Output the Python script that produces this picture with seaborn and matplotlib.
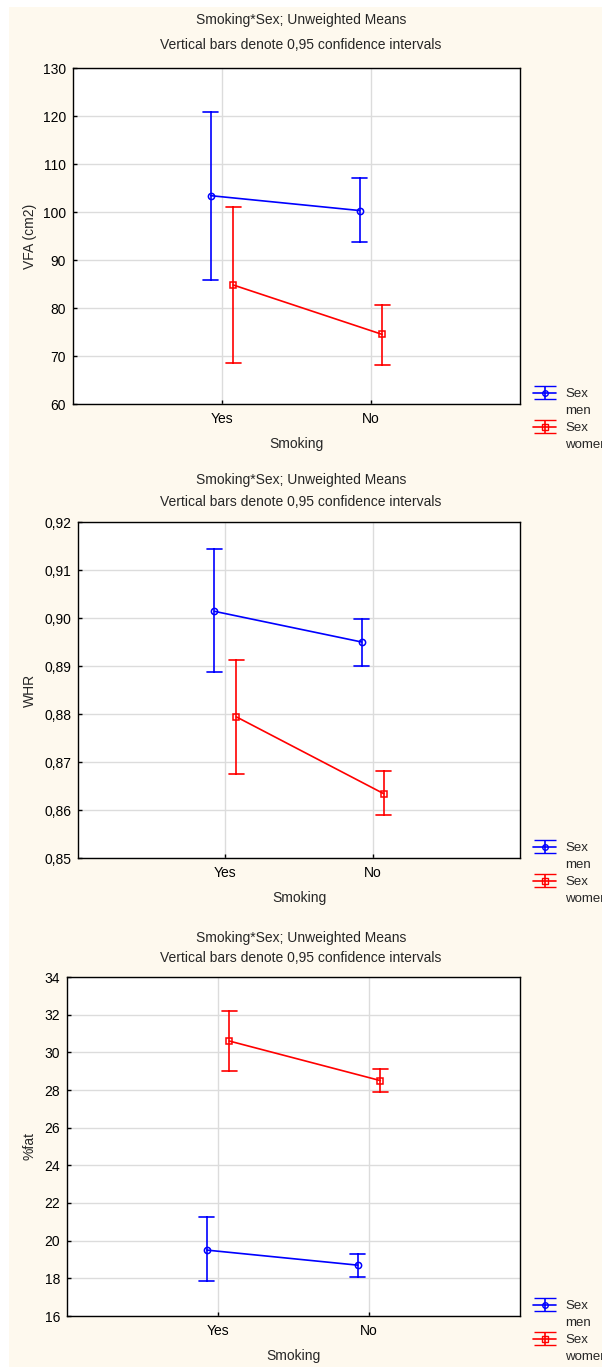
import numpy as np
import pandas as pd
import matplotlib
matplotlib.use("Agg")
import matplotlib.pyplot as plt
import seaborn as sns
from matplotlib.patches import Rectangle
from matplotlib.lines import Line2D

# ---------------- data ----------------
smoking = ["Yes", "No"]
sexes = ["men", "women"]

vfa_mean_men = [103.4, 100.3]
vfa_lo_men = [85.8, 93.8]
vfa_hi_men = [120.9, 107.0]
vfa_mean_women = [84.8, 74.5]
vfa_lo_women = [68.5, 68.2]
vfa_hi_women = [101.0, 80.7]

whr_mean_men = [0.9014, 0.8950]
whr_lo_men = [0.8888, 0.8901]
whr_hi_men = [0.9143, 0.8997]
whr_mean_women = [0.8794, 0.8634]
whr_lo_women = [0.8675, 0.8590]
whr_hi_women = [0.8913, 0.8681]

fat_mean_men = [19.5, 18.7]
fat_lo_men = [17.85, 18.05]
fat_hi_men = [21.25, 19.3]
fat_mean_women = [30.6, 28.5]
fat_lo_women = [29.0, 27.9]
fat_hi_women = [32.2, 29.1]

vfa_ticks = [60, 70, 80, 90, 100, 110, 120, 130]
whr_ticks = [0.85, 0.86, 0.87, 0.88, 0.89, 0.90, 0.91, 0.92]
fat_ticks = [16, 18, 20, 22, 24, 26, 28, 30, 32, 34]

title1 = "Smoking*Sex; Unweighted Means"
title2 = "Vertical bars denote 0,95 confidence intervals"

panels = [
    dict(ylabel="VFA (cm2)", ticks=vfa_ticks, fmt="{:.0f}",
         men=(vfa_mean_men, vfa_lo_men, vfa_hi_men),
         women=(vfa_mean_women, vfa_lo_women, vfa_hi_women)),
    dict(ylabel="WHR", ticks=whr_ticks, fmt="{:.2f}",
         men=(whr_mean_men, whr_lo_men, whr_hi_men),
         women=(whr_mean_women, whr_lo_women, whr_hi_women)),
    dict(ylabel="%fat", ticks=fat_ticks, fmt="{:.0f}",
         men=(fat_mean_men, fat_lo_men, fat_hi_men),
         women=(fat_mean_women, fat_lo_women, fat_hi_women)),
]

colors = {"men": "#0000ff", "women": "#ff0000"}
markers = {"men": "o", "women": "s"}

sns.set_style("white")
plt.rcParams["font.family"] = ["Liberation Sans", "DejaVu Sans"]
plt.rcParams["font.size"] = 10

W, H = 602, 1367
fig = plt.figure(figsize=(W / 100, H / 100), dpi=100)
fig.patch.set_facecolor("white")
fig.patches.append(Rectangle((9 / W, 0), 1 - 9 / W, 1 - 7 / H,
                             transform=fig.transFigure, facecolor="#fef9ee",
                             edgecolor="none", zorder=-10))

# axes boxes in pixels: (left, top, right, bottom)
boxes = [(73, 68, 520, 404), (78, 522, 520, 858), (67, 977, 520, 1316)]
title_y = [(20, 45), (480, 502), (938, 958)]
ylabel_x = 30
legend_x = 533

for p, box, ty in zip(panels, boxes, title_y):
    l, t, r, b = box
    wpx, hpx = r - l, b - t
    ax = fig.add_axes([l / W, 1 - b / H, wpx / W, hpx / H])
    ax.set_facecolor("white")

    # long table: lower bound, mean, upper bound per group
    rows = []
    for sex in sexes:
        m, lo, hi = p[sex]
        for i, s in enumerate(smoking):
            for v in (lo[i], m[i], hi[i]):
                rows.append(dict(Smoking=s, Sex=sex, value=v))
    df = pd.DataFrame(rows)

    sns.pointplot(data=df, x="Smoking", y="value", hue="Sex",
                  order=smoking, hue_order=sexes,
                  palette=colors, markers=[markers[s] for s in sexes],
                  estimator="median",
                  errorbar=lambda v: (np.min(v), np.max(v)),
                  dodge=0.15, capsize=0.1,
                  markersize=4.5, markerfacecolor="none", markeredgewidth=1.1,
                  linewidth=1.2, err_kws={"linewidth": 1.2},
                  legend=False, ax=ax)

    ax.set_xlim(-1, 2)
    ax.set_ylim(p["ticks"][0], p["ticks"][-1])
    ax.set_yticks(p["ticks"])
    ax.set_yticklabels([p["fmt"].format(v).replace(".", ",") for v in p["ticks"]])
    ax.set_xticks([0, 1])
    ax.set_xticklabels(smoking)
    ax.grid(True, color="#dcdcdc", linewidth=1.0, zorder=0)
    ax.set_axisbelow(True)
    for sp in ax.spines.values():
        sp.set_visible(True)
        sp.set_color("black")
        sp.set_linewidth(1.0)
    ax.tick_params(axis="both", direction="in", length=3, width=1,
                   color="black", labelsize=10, labelcolor="black",
                   left=True, bottom=True)
    ax.tick_params(axis="y", pad=5)
    ax.tick_params(axis="x", pad=6)
    ax.set_xlabel("Smoking", fontsize=10, labelpad=8)
    ax.set_ylabel(p["ylabel"], fontsize=10)
    ax.yaxis.set_label_coords((ylabel_x - l) / wpx, 0.5)
    ax.yaxis.label.set_verticalalignment("center")

    fig.text(0.5, 1 - ty[0] / H, title1, ha="center", va="center", fontsize=10)
    fig.text(0.5, 1 - ty[1] / H, title2, ha="center", va="center", fontsize=10)

    # legend
    handles, labels = [], []
    for sex in sexes:
        eb = ax.errorbar([-10], [0], yerr=[[1], [1]], color=colors[sex],
                         marker=markers[sex], markersize=4, mfc="none",
                         capsize=8, elinewidth=1.2, linewidth=1.2)
        handles += [eb, Line2D([], [], linestyle="none")]
        labels += ["Sex", sex]
    ax.legend(handles, labels, loc="upper left",
              bbox_to_anchor=((legend_x - l) / wpx, 16 / hpx), frameon=False,
              fontsize=9.5, handlelength=1.75, handletextpad=0.7,
              labelspacing=0.36, borderpad=0, borderaxespad=0)
    ax.set_xlim(-1, 2)
    ax.set_ylim(p["ticks"][0], p["ticks"][-1])

fig.savefig("out.png", dpi=100, facecolor=fig.get_facecolor())
